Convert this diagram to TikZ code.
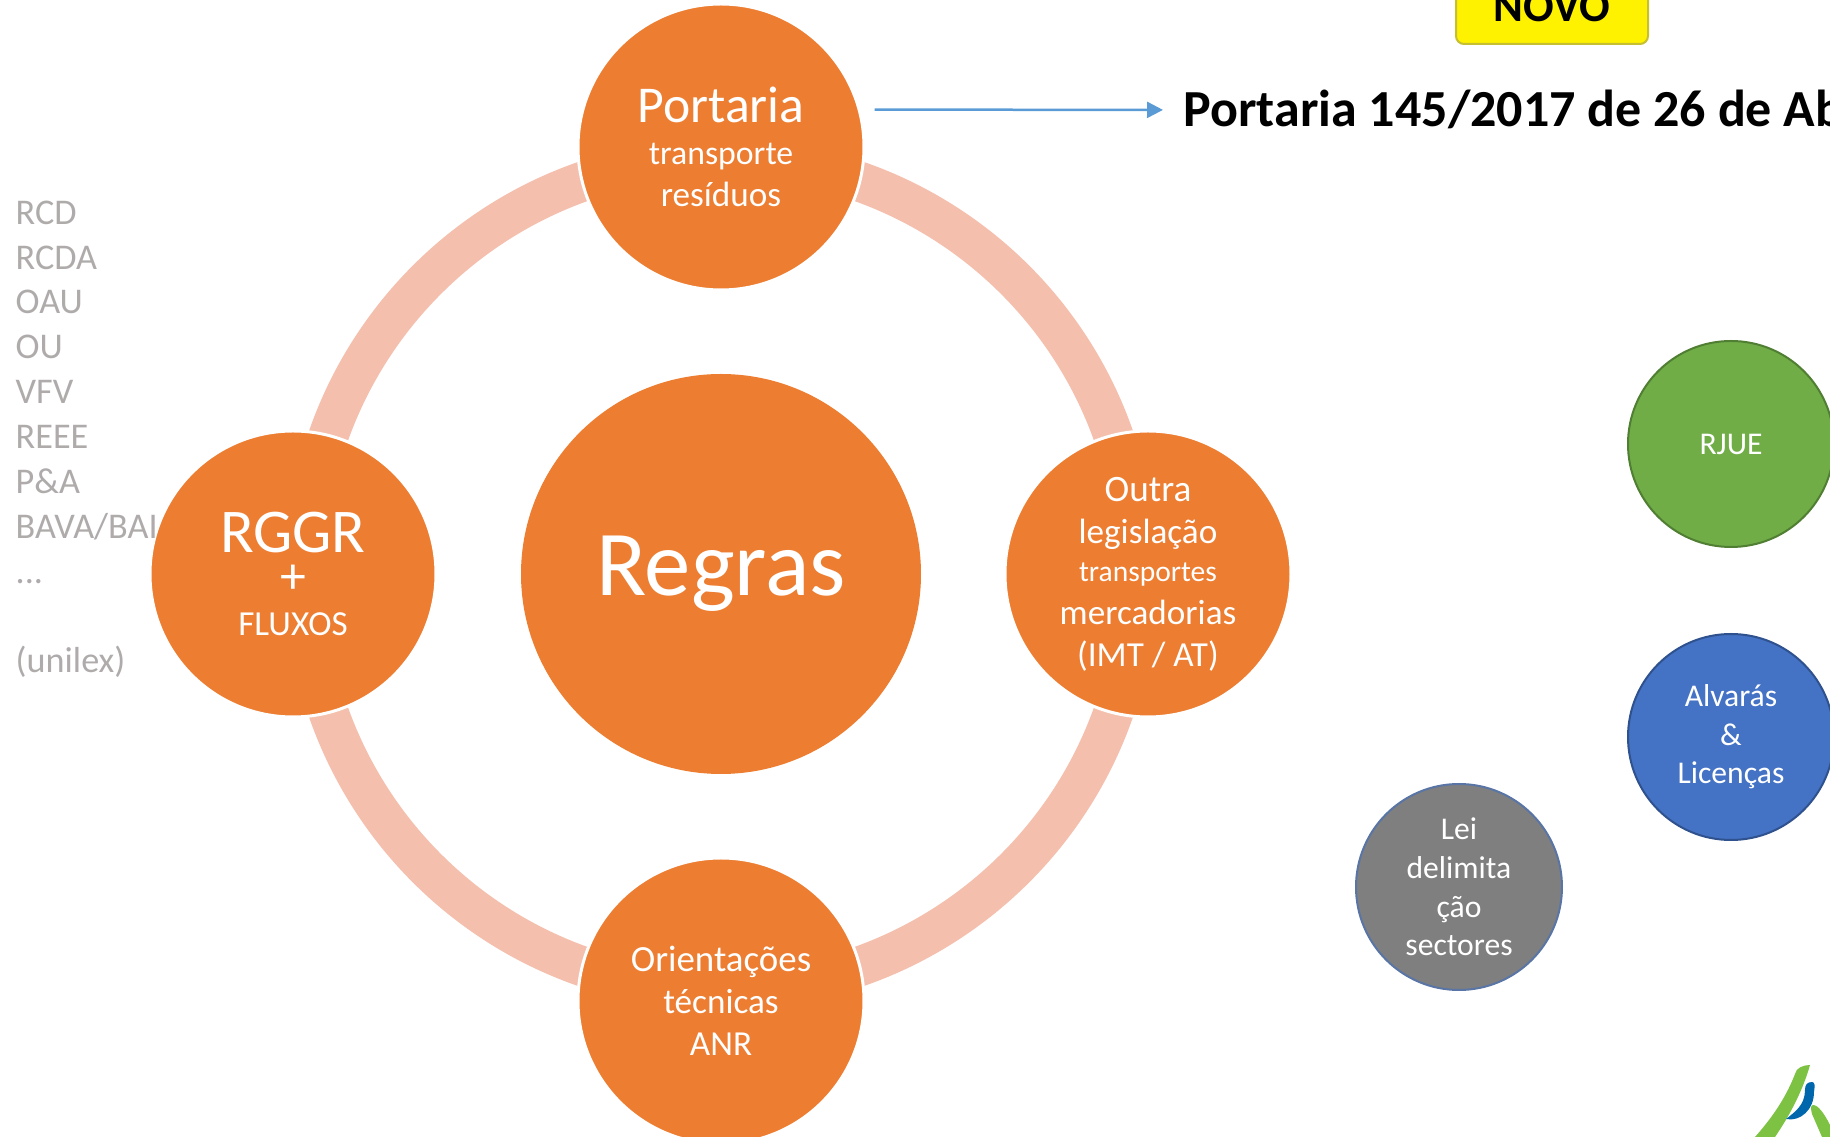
\documentclass[tikz,border=0pt]{standalone}
\usepackage{fontspec}
\setmainfont{Carlito}
\definecolor{orange01}{HTML}{ED7D31}
\definecolor{ring01}{HTML}{F5BFAD}
\definecolor{green01}{HTML}{70AD47}
\definecolor{green02}{HTML}{507E32}
\definecolor{blue01}{HTML}{4472C4}
\definecolor{blue02}{HTML}{2F528F}
\definecolor{grey01}{HTML}{7F7F7F}
\definecolor{grey02}{HTML}{AFABAB}
\definecolor{line01}{HTML}{5B9BD5}
\definecolor{logo01}{HTML}{7DC242}
\definecolor{logo02}{HTML}{0067AC}
\newcommand{\fsz}[2]{\fontsize{#1}{#2}\selectfont}
\usetikzlibrary{arrows.meta}
\tikzset{
    bigdisc/.style={circle,fill=orange01,draw=white,line width=0.3mm,text=white,align=center,inner sep=0pt,minimum size=2.86cm},
    smalldisc/.style={circle,line width=0.2mm,text=white,align=center,inner sep=0pt,minimum size=2.06cm,font=\fsz{9}{11}},
}
\begin{document}
\begin{tikzpicture}[x=0.1mm,y=-0.1mm]
    \useasboundingbox (0,0) rectangle (1830,1137);
    \clip (0,0) rectangle (1830,1137);
    \draw[draw=ring01,line width=4mm] (721,574) circle [radius=416];
    \node[circle,fill=orange01,text=white,inner sep=0pt,minimum size=4cm,font=\fsz{26.4}{30}] (regras) at (721,574) {Regras};
    \node[bigdisc] (portaria) at (721,147) {\fsz{14.7}{13}Portaria\\[0pt]\fsz{9.6}{10.7}transporte\\resíduos};
    \node[bigdisc] (rggr) at (293,574) {\fsz{17.7}{17.5}RGGR\\[-0.5pt]\fsz{14.7}{17.5}+\\FLUXOS};
    \node[bigdisc] (outra) at (1148,574) {\fsz{10.6}{11.6}Outra\\legislação\\[-1pt]\fsz{8.4}{9.3}transportes\\mercadorias\\(IMT / AT)};
    \node[bigdisc] (orientacoes) at (721,1001) {\fsz{10.5}{11.6}Orientações\\técnicas\\ANR};
    \node[smalldisc,fill=green01,draw=green02] (rjue) at (1731,444) {RJUE};
    \node[smalldisc,fill=blue01,draw=blue02] (alvaras) at (1731,737) {Alvarás\\\&\\Licenças};
    \node[smalldisc,fill=grey01,draw=blue02!80] (lei) at (1459,887) {Lei\\delimita\\ção\\sectores};
    \node[draw=yellow!75!black,fill=yellow,line width=0.2mm,rounded corners=0.8mm,minimum width=1.92cm,minimum height=0.75cm,inner sep=0pt,font=\fsz{12.9}{14}\bfseries] (novo) at (1552,6.5) {NOVO};
    \node[anchor=base west,inner sep=0pt,font=\fsz{14.8}{16}\bfseries] (lawtext) at (1183,127) {Portaria 145/2017 de 26 de Abril};
    \draw[draw=line01,line width=0.25mm,-{Triangle[length=1.6mm,width=1.6mm]},shorten <=1.4mm,shorten >=2mm] (portaria.15) -- (lawtext.west);
    \node[anchor=base west,inner sep=0pt,align=left,text=grey02,font=\fsz{10.3}{12.77}] (siglas) at (15,673) {RCD\\RCDA\\OAU\\OU\\VFV\\REEE\\P\&A\\BAVA/BAI\\...\\\mbox{}\\(unilex)};
    % logo
    \fill[logo01] (1810,1065) .. controls (1803,1065) and (1796,1068) .. (1795,1074) .. controls (1785,1100) and (1770,1120) .. (1755,1137) -- (1775,1137) .. controls (1790,1115) and (1803,1090) .. (1810,1065) -- cycle;
    \fill[logo02] (1812,1082) .. controls (1807,1082) and (1805,1085) .. (1805,1090) .. controls (1805,1105) and (1795,1112) .. (1786,1119) .. controls (1800,1122) and (1814,1110) .. (1814,1092) .. controls (1815,1086) and (1815,1082) .. (1812,1082) -- cycle;
    \fill[logo01] (1813,1105) .. controls (1810,1105) and (1811,1110) .. (1812,1114) -- (1822,1137) -- (1830,1137) -- (1830,1125) .. controls (1824,1113) and (1818,1105) .. (1813,1105) -- cycle;
\end{tikzpicture}
\end{document}
